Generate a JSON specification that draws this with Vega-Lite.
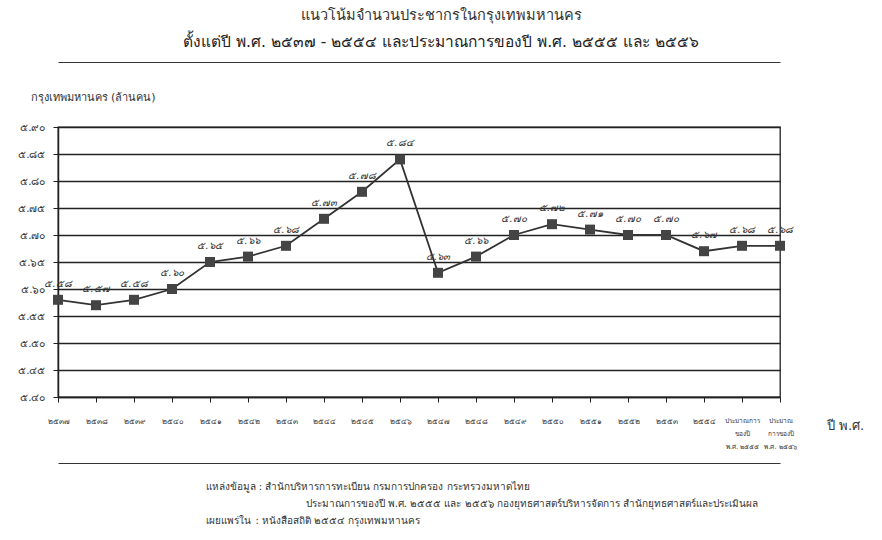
{
  "$schema": "https://vega.github.io/schema/vega-lite/v6.json",
  "width": 722,
  "height": 270,
  "autosize": {"type": "none"},
  "padding": {"left": 58, "top": 127, "right": 102, "bottom": 143},
  "background": "white",
  "title": {
    "text": "แนวโน้มจำนวนประชากรในกรุงเทพมหานคร",
    "subtitle": "ตั้งแต่ปี พ.ศ. ๒๕๓๗ - ๒๕๕๔ และประมาณการของปี พ.ศ. ๒๕๕๕ และ ๒๕๕๖",
    "anchor": "middle",
    "dx": 22,
    "fontSize": 14.5,
    "fontWeight": "normal",
    "subtitleFontSize": 15.5,
    "subtitlePadding": 11,
    "color": "#333",
    "subtitleColor": "#222",
    "offset": 11
  },
  "data": {
    "values": [
      {"year": "๒๕๓๗", "pop": 5.58, "lbl": "๕.๕๘"},
      {"year": "๒๕๓๘", "pop": 5.57, "lbl": "๕.๕๗"},
      {"year": "๒๕๓๙", "pop": 5.58, "lbl": "๕.๕๘"},
      {"year": "๒๕๔๐", "pop": 5.60, "lbl": "๕.๖๐"},
      {"year": "๒๕๔๑", "pop": 5.65, "lbl": "๕.๖๕"},
      {"year": "๒๕๔๒", "pop": 5.66, "lbl": "๕.๖๖"},
      {"year": "๒๕๔๓", "pop": 5.68, "lbl": "๕.๖๘"},
      {"year": "๒๕๔๔", "pop": 5.73, "lbl": "๕.๗๓"},
      {"year": "๒๕๔๕", "pop": 5.78, "lbl": "๕.๗๘"},
      {"year": "๒๕๔๖", "pop": 5.84, "lbl": "๕.๘๔"},
      {"year": "๒๕๔๗", "pop": 5.63, "lbl": "๕.๖๓"},
      {"year": "๒๕๔๘", "pop": 5.66, "lbl": "๕.๖๖"},
      {"year": "๒๕๔๙", "pop": 5.70, "lbl": "๕.๗๐"},
      {"year": "๒๕๕๐", "pop": 5.72, "lbl": "๕.๗๒"},
      {"year": "๒๕๕๑", "pop": 5.71, "lbl": "๕.๗๑"},
      {"year": "๒๕๕๒", "pop": 5.70, "lbl": "๕.๗๐"},
      {"year": "๒๕๕๓", "pop": 5.70, "lbl": "๕.๗๐"},
      {"year": "๒๕๕๔", "pop": 5.67, "lbl": "๕.๖๗"},
      {"year": "ประมาณการ|ของปี|พ.ศ. ๒๕๕๕", "pop": 5.68, "lbl": "๕.๖๘"},
      {"year": "ประมาณ|การของปี|พ.ศ. ๒๕๕๖", "pop": 5.68, "lbl": "๕.๖๘"}
    ]
  },
  "encoding": {
    "y": {
      "field": "pop",
      "type": "quantitative",
      "scale": {"domain": [5.4, 5.9], "nice": false, "zero": false},
      "axis": {
        "values": [5.4, 5.45, 5.5, 5.55, 5.6, 5.65, 5.7, 5.75, 5.8, 5.85, 5.9],
        "labelExpr": "replace(replace(replace(replace(replace(replace(replace(replace(replace(replace(format(datum.value, '.2f'), regexp('0','g'), '๐'), regexp('1','g'), '๑'), regexp('2','g'), '๒'), regexp('3','g'), '๓'), regexp('4','g'), '๔'), regexp('5','g'), '๕'), regexp('6','g'), '๖'), regexp('7','g'), '๗'), regexp('8','g'), '๘'), regexp('9','g'), '๙')",
        "grid": true,
        "gridColor": "#222",
        "gridWidth": 1.3,
        "gridOpacity": 1,
        "domain": true,
        "domainColor": "#222",
        "domainWidth": 1.5,
        "ticks": true,
        "tickSize": 5,
        "tickColor": "#222",
        "labelFontSize": 10.5,
        "labelColor": "#333",
        "labelPadding": 8,
        "title": "กรุงเทพมหานคร (ล้านคน)",
        "titleAngle": 0,
        "titleAlign": "left",
        "titleBaseline": "middle",
        "titleX": -28,
        "titleY": -30,
        "titleFontSize": 11,
        "titleFontWeight": "normal",
        "titleColor": "#333"
      }
    }
  },
  "layer": [
    {
      "mark": {"type": "line", "color": "#333", "strokeWidth": 1.8},
      "encoding": {
        "x": {
          "field": "year",
          "type": "ordinal",
          "sort": null,
          "scale": {"type": "point", "padding": 0},
          "axis": {
            "orient": "bottom",
            "labelAngle": 0,
            "labelExpr": "split(datum.label, '|')",
            "labelFontSize": {"condition": {"test": "length(datum.label) > 6", "value": 6.5}, "value": 7.5},
            "labelColor": "#333",
            "labelPadding": 15,
            "labelLineHeight": 13,
            "labelBaseline": "top",
            "labelOverlap": false,
            "domain": true,
            "domainColor": "#222",
            "domainWidth": 1.5,
            "ticks": true,
            "tickSize": 5,
            "tickColor": "#222",
            "grid": false,
            "title": "ปี พ.ศ.",
            "titleX": 787,
            "titleY": 22,
            "titleAlign": "center",
            "titleFontSize": 13,
            "titleFontWeight": "normal",
            "titleColor": "#333"
          }
        }
      }
    },
    {
      "mark": {"type": "square", "size": 100, "color": "#444", "opacity": 1},
      "encoding": {
        "x": {
          "field": "year",
          "type": "ordinal",
          "sort": null,
          "axis": {
            "orient": "top",
            "offset": 65,
            "domain": true,
            "domainColor": "#333",
            "domainWidth": 1.2,
            "labels": false,
            "ticks": false,
            "grid": false,
            "title": null
          }
        }
      }
    },
    {
      "mark": {"type": "text", "dy": -16, "fontSize": 10, "fontStyle": "italic", "color": "#333"},
      "encoding": {
        "x": {
          "field": "year",
          "type": "ordinal",
          "sort": null,
          "axis": {
            "orient": "bottom",
            "offset": 66,
            "domain": true,
            "domainColor": "#333",
            "domainWidth": 1.2,
            "labels": false,
            "ticks": false,
            "grid": false,
            "title": [
              "แหล่งข้อมูล : สำนักบริหารการทะเบียน กรมการปกครอง กระทรวงมหาดไทย",
              "\u200b\u2003\u2003\u2003\u2003\u2003\u2003\u2003\u2003\u2003\u2003ประมาณการของปี พ.ศ. ๒๕๕๕ และ ๒๕๕๖ กองยุทธศาสตร์บริหารจัดการ สำนักยุทธศาสตร์และประเมินผล",
              "เผยแพร่ใน\u2002: หนังสือสถิติ ๒๕๕๔ กรุงเทพมหานคร"
            ],
            "titleX": 147,
            "titleY": 18,
            "titleAlign": "left",
            "titleBaseline": "top",
            "titleLineHeight": 17,
            "titleFontSize": 10,
            "titleFontWeight": "normal",
            "titleColor": "#333"
          }
        },
        "text": {"field": "lbl"}
      }
    }
  ],
  "resolve": {"axis": {"x": "independent"}},
  "config": {
    "view": {"stroke": "#222", "strokeWidth": 1.3},
    "font": "DejaVu Sans"
  }
}
